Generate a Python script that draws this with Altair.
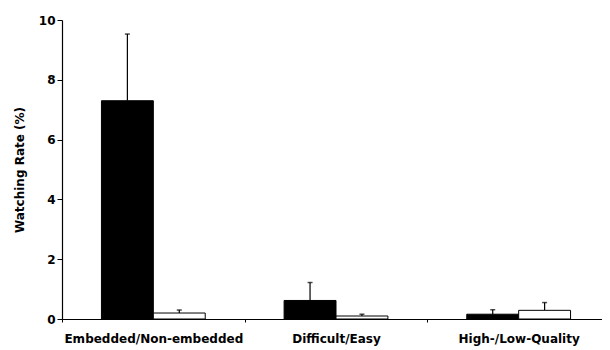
import altair as alt
import pandas as pd

categories = ["Embedded/Non-embedded", "Difficult/Easy", "High-/Low-Quality"]
series = ["first", "second"]
first_values = [7.3, 0.62, 0.16]
first_errors = [2.23, 0.6, 0.15]
second_values = [0.2, 0.1, 0.29]
second_errors = [0.1, 0.06, 0.26]

rows = []
for i, c in enumerate(categories):
    rows.append({"cat": c, "s": series[0], "v": first_values[i], "hi": first_values[i] + first_errors[i]})
    rows.append({"cat": c, "s": series[1], "v": second_values[i], "hi": second_values[i] + second_errors[i]})
df = pd.DataFrame(rows)

font = "DejaVu Sans"
x = alt.X("cat:N", sort=categories, title=None,
          scale=alt.Scale(paddingInner=0.0, paddingOuter=0.0),
          axis=alt.Axis(labelAngle=0, labelFont=font, labelFontWeight="bold", labelFontSize=12,
                        labelColor="black", labelPadding=11, tickBand="extent", tickSize=3,
                        domainColor="black", tickColor="black", domainWidth=1.2))
y = alt.Y("v:Q", title="Watching Rate (%)",
          scale=alt.Scale(domain=[0, 10], nice=False),
          axis=alt.Axis(values=[0, 2, 4, 6, 8, 10], grid=False, labelFont=font, labelFontWeight="bold",
                        labelFontSize=12, labelColor="black", titleFont=font, titleFontSize=12,
                        titleFontWeight="bold", titleColor="black", tickSize=5, titlePadding=12,
                        domainColor="black", tickColor="black", domainWidth=1.2))
xo = alt.XOffset("s:N", sort=series, scale=alt.Scale(paddingInner=0, paddingOuter=0.76))

base = alt.Chart(df)
color = alt.Color("s:N", sort=series, scale=alt.Scale(domain=series, range=["black", "white"]), legend=None)

err = base.mark_rule(color="black", strokeWidth=1.2).encode(x=x, xOffset=xo, y="v:Q", y2="hi:Q")
cap = base.mark_tick(color="black", orient="horizontal", size=5, thickness=1.5).encode(x=x, xOffset=xo, y="hi:Q")
bars = base.mark_bar(stroke="black", strokeWidth=1).encode(x=x, xOffset=xo, y=y, fill=color)

chart = alt.layer(err, cap, bars).properties(
    width=548, height=299,
    autosize=alt.AutoSizeParams(type="none"),
    padding={"left": 54, "top": 12, "right": -8, "bottom": 28},
).configure_view(stroke=None)

chart.save("out.html", embed_options={"renderer": "svg", "actions": False})
